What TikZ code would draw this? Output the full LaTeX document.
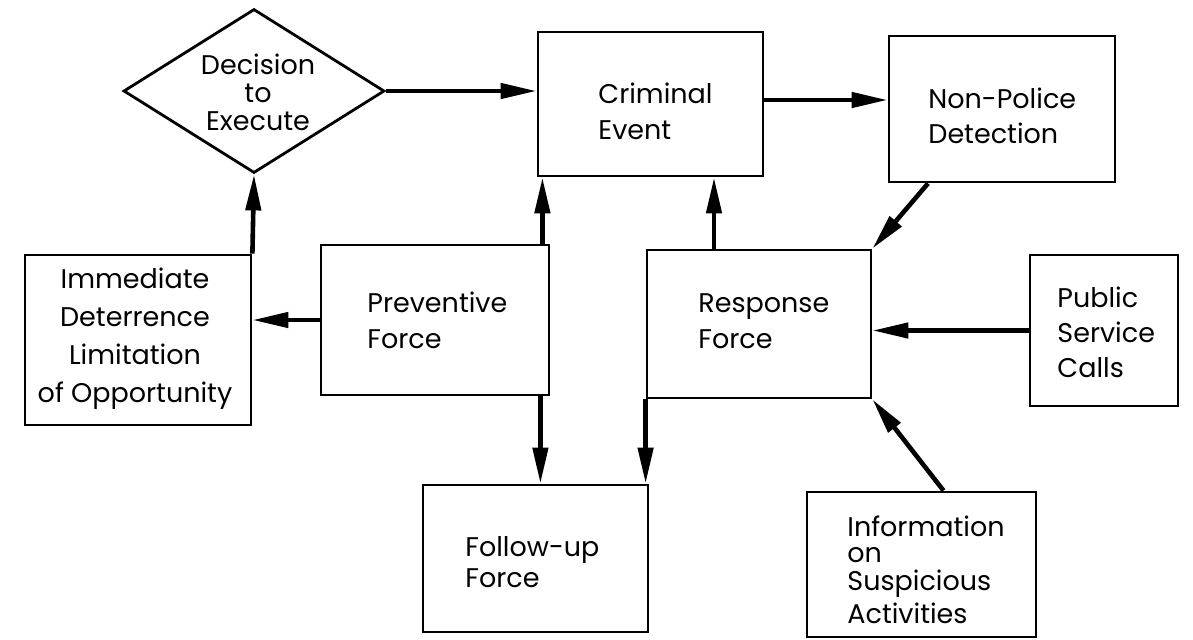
\documentclass[tikz,border=0pt]{standalone}
\usepackage{fontspec}
\setmainfont{Poppins}
\usetikzlibrary{shapes.geometric,arrows.meta}

\begin{document}
\begin{tikzpicture}[x=0.5pt,y=-0.5pt,
  box/.style={draw,line width=1.4pt,inner sep=0pt},
  lbl/.style={font=\fontsize{13.5}{18}\selectfont,inner sep=0pt,align=left,anchor=west},
  flow/.style={line width=2.3pt,-{Triangle[length=18pt,width=7.5pt]}},
]
\useasboundingbox (0,0) rectangle (1193,639);
\fill[white] (0,0) rectangle (1193,639);

% boxes
\node[box,diamond,minimum width=130.5pt,minimum height=82pt] (dec) at (254,91) {};
\node[box,minimum width=112.5pt,minimum height=72pt] (crim) at (650.5,104) {};
\node[box,minimum width=113pt,minimum height=73pt] (np) at (1002,109) {};
\node[box,minimum width=114pt,minimum height=75pt] (prev) at (435,320) {};
\node[box,minimum width=112pt,minimum height=74pt] (resp) at (759,324) {};
\node[box,minimum width=74pt,minimum height=75.5pt] (pub) at (1104,330.5) {};
\node[box,minimum width=113pt,minimum height=85pt] (imm) at (138,340) {};
\node[box,minimum width=112.5pt,minimum height=73.5pt] (fol) at (535.5,558.5) {};
\node[box,minimum width=114.5pt,minimum height=72.5pt] (info) at (921.5,564.5) {};

% labels
\node[lbl,anchor=center,align=center,font=\fontsize{13.5}{14}\selectfont] (dect) at (258,92) {Decision\\to\\Execute};
\node[lbl] (crimt) at (598,111) {Criminal\\Event};
\node[lbl,font=\fontsize{13.5}{17.5}\selectfont] (npt) at (928,116) {Non-Police\\Detection};
\node[lbl] (prevt) at (367,320) {Preventive\\Force};
\node[lbl] (respt) at (698,321) {Response\\Force};
\node[lbl,font=\fontsize{13.5}{17.5}\selectfont] (pubt) at (1057,332) {Public\\Service\\Calls};
\node[lbl,anchor=center,align=center,font=\fontsize{13.5}{19}\selectfont] (immt) at (135,339) {Immediate\\Deterrence\\Limitation\\of Opportunity};
\node[lbl,font=\fontsize{13.5}{15.5}\selectfont] (folt) at (465,562) {Follow-up\\Force};
\node[lbl,font=\fontsize{13.5}{14}\selectfont] (infot) at (847,570) {Information\\[-1pt]on\\Suspicious\\[2.5pt]Activities};

% connector end points offset along box edges
\coordinate (crimout) at ([yshift=2pt]crim.east);
\coordinate (npout) at ([xshift=-37pt]np.south);
\coordinate (respup) at ([xshift=-22.5pt]resp.north);
\coordinate (infoout) at ([xshift=11pt]info.north);
\coordinate (prevup) at ([xshift=-4pt]prev.north east);
\coordinate (prevdown) at ([xshift=-5pt]prev.south east);

% connectors
\draw[flow] (dec.east) -- (crim.west |- dec.east);
\draw[flow] (crimout) -- (np.west |- crimout);
\draw[flow] (npout) -- (resp.north east);
\draw[flow] (respup) -- (respup |- crim.south);
\draw[flow] (pub.west) -- (resp.east |- pub.west);
\draw[flow] (infoout) -- (resp.south east);
\draw[flow] (resp.south west) -- (resp.south west |- fol.north);
\draw[flow] (prevup) -- (prevup |- crim.south);
\draw[flow] (prevdown) -- (prevdown |- fol.north);
\draw[flow] (prev.west) -- (imm.east |- prev.west);
\draw[flow] (imm.north east) -- (dec.south);
\end{tikzpicture}
\end{document}
